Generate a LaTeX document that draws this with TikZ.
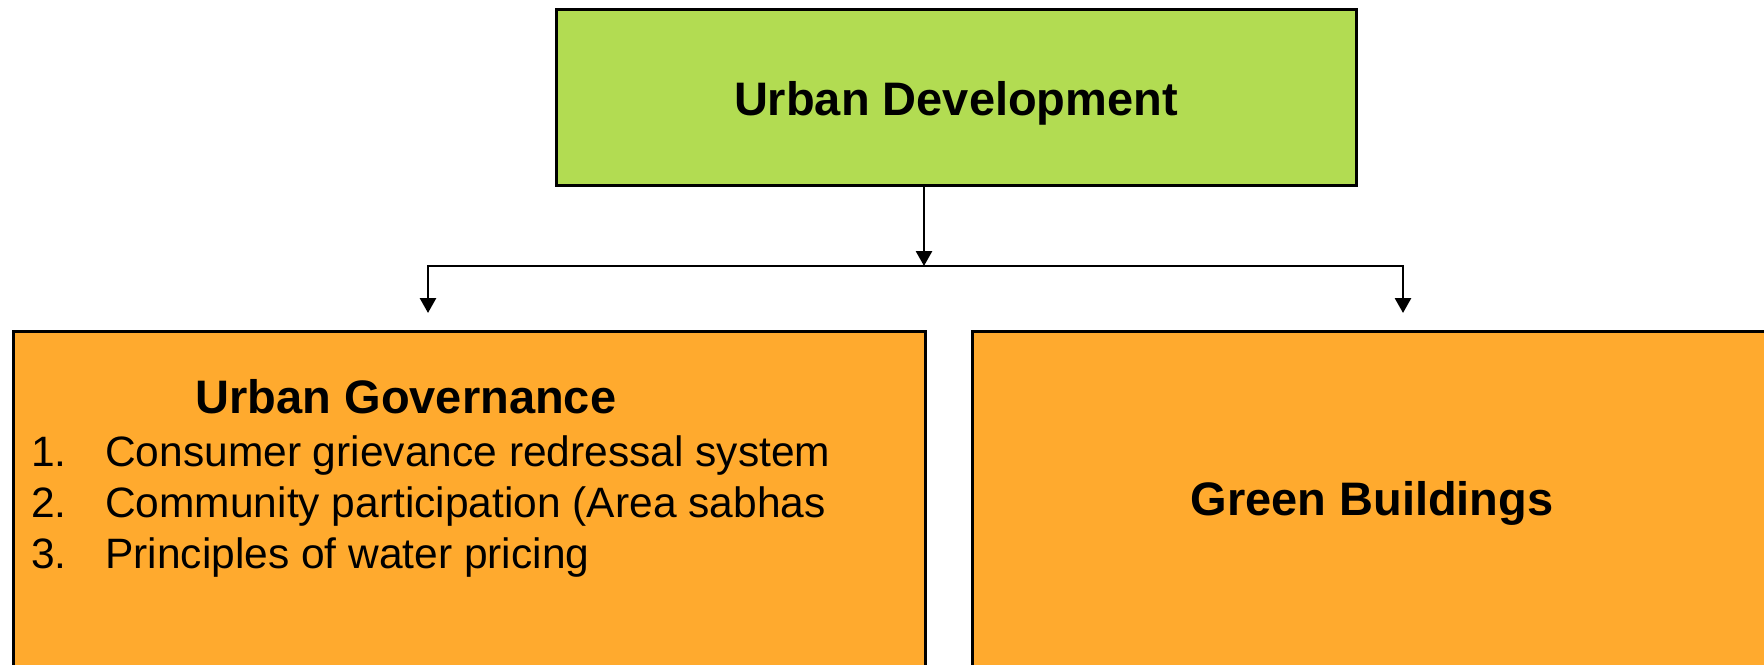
\documentclass[tikz,border=0pt]{standalone}
\usepackage{fontspec}
\setmainfont{Liberation Sans}
\usetikzlibrary{arrows.meta}
\definecolor{boxgreen}{RGB}{178,220,82}
\definecolor{boxorange}{RGB}{255,170,46}
\tikzset{
  box/.style={draw=black, line width=3pt, inner sep=0pt},
  conn/.style={line width=2.8pt, draw=black},
  arr/.style={conn, -{Triangle[length=15pt,width=16pt]}},
  headtxt/.style={font=\fontsize{47}{56}\selectfont\bfseries, inner sep=0pt},
  itemtxt/.style={font=\fontsize{42.5}{51}\selectfont, inner sep=0pt, anchor=base west},
}
\begin{document}
\begin{tikzpicture}[x=1pt,y=-1pt]
\useasboundingbox[fill=white] (0,0) rectangle (1764,664);
% boxes
\node[box, fill=boxgreen, minimum width=800pt, minimum height=176pt] (top) at (956,97.5) {};
\node[box, fill=boxorange, minimum width=912pt, minimum height=420pt, anchor=north west] (left) at (12,330) {};
\node[box, fill=boxorange, minimum width=900pt, minimum height=420pt, anchor=north west] (right) at (971,330) {};
% texts
\node[headtxt, anchor=base] (toptxt) at (956,115) {Urban Development};
\node[headtxt, anchor=base] (lefthead) at (406,413) {Urban Governance};
\node[itemtxt] (n1) at (31,466) {1.};
\node[itemtxt] (t1) at (105,466) {Consumer grievance redressal system};
\node[itemtxt] (n2) at (31,517) {2.};
\node[itemtxt] (t2) at (105,517) {Community participation (Area sabhas};
\node[itemtxt] (n3) at (31,568) {3.};
\node[itemtxt] (t3) at (105,568) {Principles of water pricing};
\node[headtxt, anchor=base] (righthead) at (1372,515) {Green Buildings};
% connectors
\coordinate (j) at (924,266);
\coordinate (aL) at (428,313);
\coordinate (aR) at (1403,313);
\draw[arr] (top.south -| j) -- (j);
\draw[arr] (j) -| (aL);
\draw[arr] (j) -| (aR);
\end{tikzpicture}
\end{document}
